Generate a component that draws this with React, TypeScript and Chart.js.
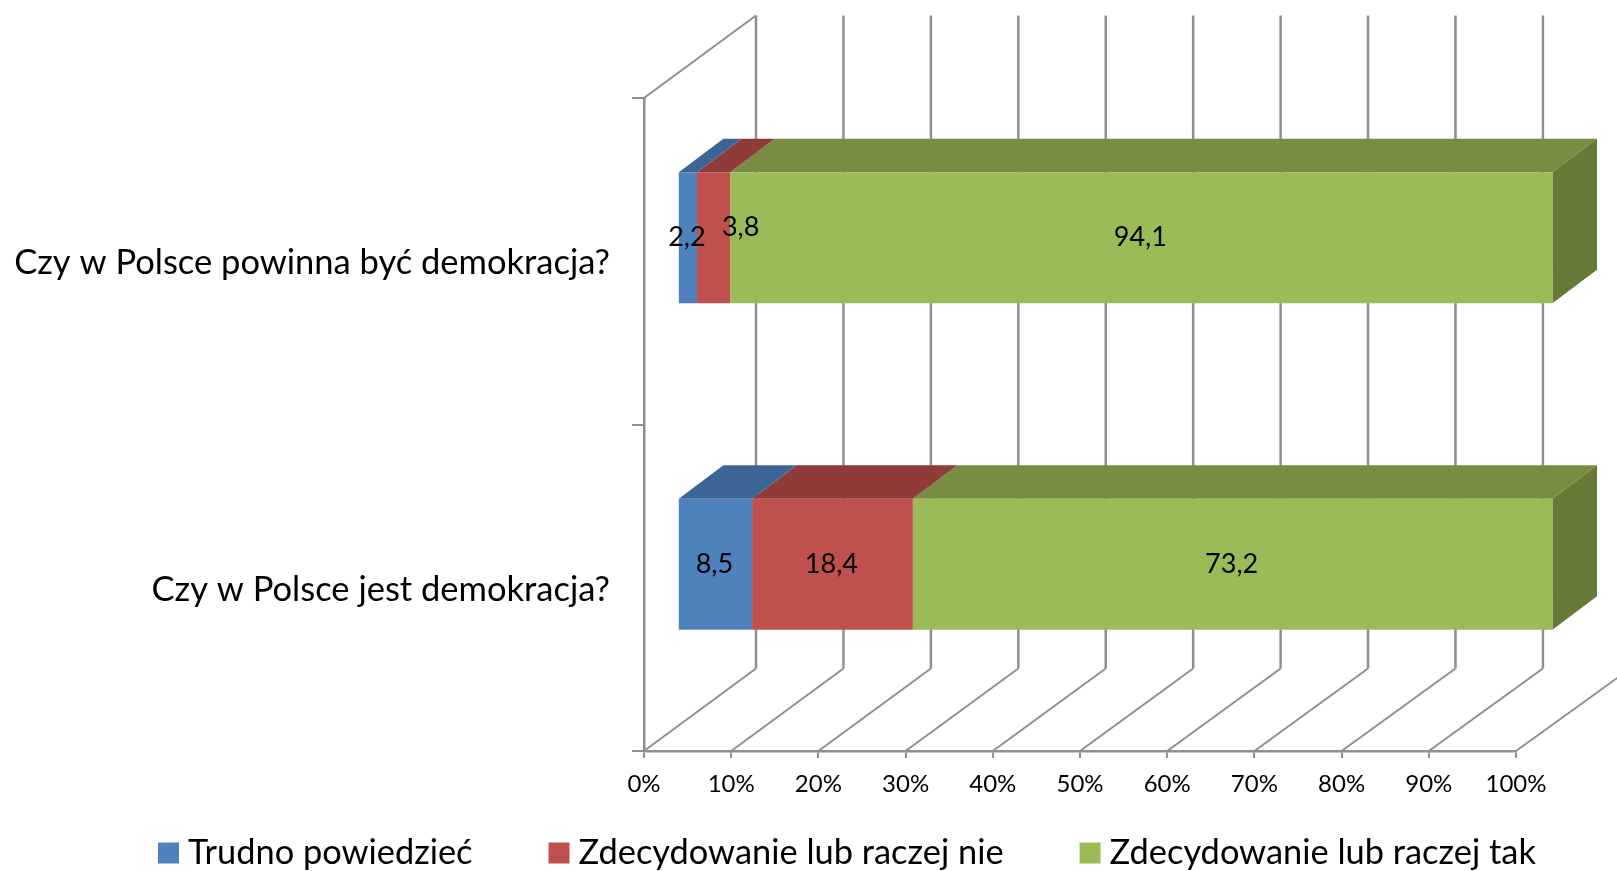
import React, { useEffect, useRef } from "react";
import { Chart, registerables } from "chart.js";

Chart.register(...registerables);

const categories = ["Czy w Polsce powinna być demokracja?", "Czy w Polsce jest demokracja?"];
const trudno = [2.2, 8.5];
const nie = [3.8, 18.4];
const tak = [94.1, 73.2];
const seriesNames = ["Trudno powiedzieć", "Zdecydowanie lub raczej nie", "Zdecydowanie lub raczej tak"];
const frontColors = ["#4F81BD", "#C0504D", "#9BBB59"];
const topColors = ["#3C6494", "#8F3B3A", "#778E42"];
const sideColor = "#667A38";
const gridColor = "#8F8F8F";
const FONT = "Lato, 'Noto Sans', sans-serif";

// 3D projection constants
const WALL_DX = 112, WALL_DY = 82.5, WALL_SCALE = 1.0027;
const BAR_DX = 33.8, BAR_DY = 23.5, BAR_SCALE = 1.002;
const DEPTH_DX = 44.5, DEPTH_DY = 33.5;

const threeD = {
  id: "threeD",
  beforeDatasetsDraw(chart: any) {
    const { ctx, chartArea: a, scales } = chart;
    const x0 = scales.x.getPixelForValue(0);
    ctx.save();
    ctx.strokeStyle = gridColor;
    ctx.lineWidth = 2;
    ctx.beginPath();
    ctx.moveTo(a.left, a.top);
    ctx.lineTo(a.left + WALL_DX, a.top - WALL_DY);
    for (const t of scales.x.ticks) {
      const x = scales.x.getPixelForValue(t.value);
      const bx = x0 + WALL_DX + (x - x0) * WALL_SCALE;
      ctx.moveTo(x, a.bottom);
      ctx.lineTo(bx, a.bottom - WALL_DY);
    }
    ctx.stroke();
    ctx.lineWidth = 2.5;
    ctx.beginPath();
    for (const t of scales.x.ticks) {
      const x = scales.x.getPixelForValue(t.value);
      const bx = x0 + WALL_DX + (x - x0) * WALL_SCALE;
      ctx.moveTo(bx, a.bottom - WALL_DY);
      ctx.lineTo(bx, a.top - WALL_DY);
    }
    ctx.stroke();
    ctx.restore();
    // all bars sit forward of the back wall, shifted from the floor axis
    ctx.save();
    ctx.translate(BAR_DX + x0 * (1 - BAR_SCALE), -BAR_DY);
    ctx.scale(BAR_SCALE, 1);
  },
  beforeDatasetDraw(chart: any, args: any) {
    const { ctx } = chart;
    const i = args.index;
    const last = chart.data.datasets.length - 1;
    for (const el of chart.getDatasetMeta(i).data) {
      const top = el.y - el.height / 2;
      const bottom = el.y + el.height / 2;
      ctx.fillStyle = topColors[i];
      ctx.beginPath();
      ctx.moveTo(el.base, top);
      ctx.lineTo(el.base + DEPTH_DX, top - DEPTH_DY);
      ctx.lineTo(el.x + DEPTH_DX, top - DEPTH_DY);
      ctx.lineTo(el.x, top);
      ctx.closePath();
      ctx.fill();
      if (i === last) {
        ctx.fillStyle = sideColor;
        ctx.beginPath();
        ctx.moveTo(el.x, top);
        ctx.lineTo(el.x + DEPTH_DX, top - DEPTH_DY);
        ctx.lineTo(el.x + DEPTH_DX, bottom - DEPTH_DY);
        ctx.lineTo(el.x, bottom);
        ctx.closePath();
        ctx.fill();
      }
    }
  },
  afterDatasetsDraw(chart: any) {
    const { ctx } = chart;
    ctx.fillStyle = "#000";
    ctx.font = `27px ${FONT}`;
    ctx.textAlign = "center";
    ctx.textBaseline = "middle";
    chart.data.datasets.forEach((ds: any, i: number) => {
      chart.getDatasetMeta(i).data.forEach((el: any, j: number) => {
        const text = ds.data[j].toFixed(1).replace(".", ",");
        // the small 3,8 label sits displaced to the right and up, as in the source
        const moved = i === 1 && j === 0;
        const cx = (el.base + el.x) / 2 + (moved ? 27 : -1);
        const cy = el.y + (moved ? -10 : 0);
        ctx.fillText(text, cx, cy);
      });
    });
    ctx.restore();
  },
  afterDraw(chart: any) {
    const { ctx } = chart;
    ctx.save();
    ctx.font = `34.4px ${FONT}`;
    ctx.textAlign = "left";
    ctx.textBaseline = "middle";
    let x = 158;
    const y = 853;
    chart.data.datasets.forEach((ds: any, i: number) => {
      ctx.fillStyle = frontColors[i];
      ctx.fillRect(x, y - 10.5, 21, 21);
      ctx.fillStyle = "#000";
      ctx.fillText(ds.label, x + 30, y);
      x += 30 + ctx.measureText(ds.label).width + 76;
    });
    ctx.restore();
  },
};

export default function App() {
  const ref = useRef<HTMLCanvasElement | null>(null);
  useEffect(() => {
    document.body.style.margin = "0";
    const make = (label: string, data: number[], i: number) => ({
      label,
      data,
      backgroundColor: frontColors[i],
      borderWidth: 0,
      clip: false as any,
      categoryPercentage: 1,
      barPercentage: 0.401,
    });
    const chart = new Chart(ref.current as HTMLCanvasElement, {
      type: "bar",
      data: {
        labels: categories,
        datasets: [make(seriesNames[0], trudno, 0), make(seriesNames[1], nie, 1), make(seriesNames[2], tak, 2)],
      },
      plugins: [threeD as any],
      options: {
        indexAxis: "y",
        responsive: false,
        animation: false,
        layout: { padding: { top: 98, right: 101, left: 0, bottom: 0 } },
        plugins: { legend: { display: false }, title: { display: false }, tooltip: { enabled: false } },
        scales: {
          x: {
            stacked: true,
            min: 0,
            max: 100,
            afterFit: (s: any) => { s.height = 120; },
            border: { display: true, color: gridColor, width: 2.5 },
            grid: { drawOnChartArea: false, drawTicks: true, tickLength: 7, color: gridColor, lineWidth: 2 },
            ticks: {
              stepSize: 10,
              color: "#000",
              padding: 12,
              maxRotation: 0,
              font: { family: FONT, size: 24 },
              callback: (v: any) => `${v}%`,
            },
          },
          y: {
            stacked: true,
            afterFit: (s: any) => { s.width = 644; },
            border: { display: true, color: gridColor, width: 2.5 },
            grid: { drawOnChartArea: false, drawTicks: true, tickLength: 12, color: gridColor, lineWidth: 2, offset: true },
            ticks: { color: "#000", padding: 22, labelOffset: 2, font: { family: FONT, size: 34.5 } },
          },
        },
      },
    });
    return () => chart.destroy();
  }, []);
  return <canvas ref={ref} width={1617} height={871} style={{ display: "block", width: 1617, height: 871 }} />;
}
